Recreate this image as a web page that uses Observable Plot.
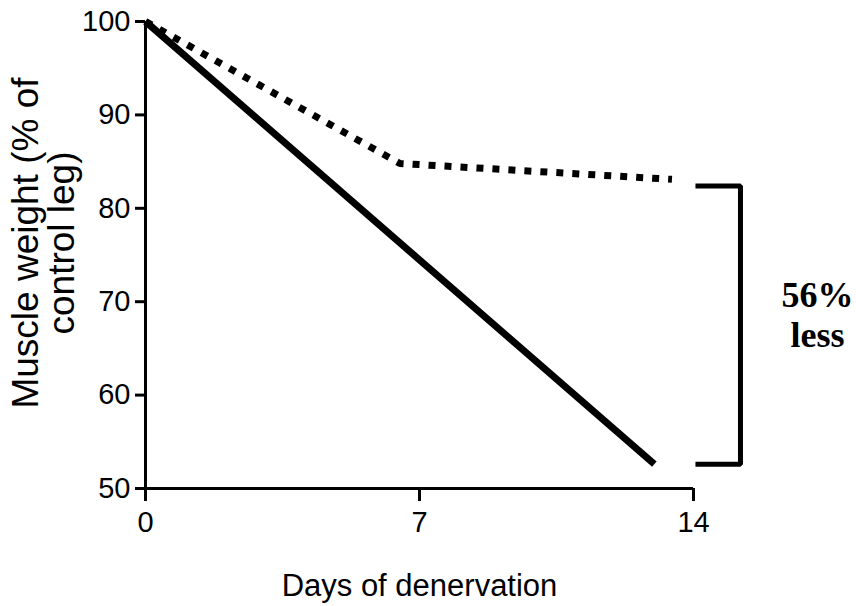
<!DOCTYPE html>
<html>
<head>
<meta charset="utf-8">
<script src="https://cdn.jsdelivr.net/npm/d3@7"></script>
<script src="https://cdn.jsdelivr.net/npm/@observablehq/plot@0.6"></script>
<style>
  html, body { margin: 0; padding: 0; background: #fff; }
</style>
</head>
<body>
<div id="chart"></div>
<script>
// Data
const solidDays = [0, 13.0];
const solidValues = [100, 52.6];
const dottedDays = [0, 6.5, 13.45];
const dottedValues = [100, 84.8, 83.1];
const xTicks = [0, 7, 14];
const yTicks = [50, 60, 70, 80, 90, 100];
const bracketX = [14.05, 15.2, 15.2, 14.05];
const bracketY = [82.4, 82.4, 52.6, 52.6];
const annotationLines = ["56%", "less"];
const annotationX = [17.17, 17.17];
const annotationY = [69.4, 65.1];
const xLabel = "Days of denervation";
const yLabelLines = ["Muscle weight (% of", "control leg)"];

const solid = solidDays.map((d, i) => ({day: d, value: solidValues[i]}));
const dotted = dottedDays.map((d, i) => ({day: d, value: dottedValues[i]}));
const bracket = bracketX.map((d, i) => ({day: d, value: bracketY[i]}));
const annot = annotationLines.map((t, i) => ({text: t, day: annotationX[i], value: annotationY[i]}));

const narrow = "'Liberation Sans Narrow', 'Arial Narrow', 'Liberation Sans', Arial, sans-serif";
const regular = "'Liberation Sans', Arial, sans-serif";

const chart = Plot.plot({
  width: 856,
  height: 606,
  marginLeft: 145,
  marginRight: 163,
  marginTop: 21,
  marginBottom: 118,
  style: {fontFamily: narrow, background: "white", color: "black", overflow: "visible"},
  x: {domain: [0, 14]},
  y: {domain: [50, 100]},
  marks: [
    Plot.axisX({ticks: xTicks, tickSize: 13, tickPadding: 10, fontSize: 29, strokeWidth: 3, label: null, tickFormat: d => String(d)}),
    Plot.axisY({ticks: yTicks, tickSize: 10, tickPadding: 5, fontSize: 29, strokeWidth: 3, label: null, tickFormat: d => String(d)}),
    Plot.ruleX([0], {y1: 50, y2: 100, strokeWidth: 3}),
    Plot.ruleY([50], {x1: 0, x2: 14, strokeWidth: 3}),
    Plot.line(solid, {x: "day", y: "value", stroke: "black", strokeWidth: 7, strokeLinecap: "butt", strokeLinejoin: "miter"}),
    Plot.line(dotted, {x: "day", y: "value", stroke: "black", strokeWidth: 7, strokeDasharray: "7,9", strokeLinecap: "butt", strokeLinejoin: "miter"}),
    Plot.line(bracket, {x: "day", y: "value", stroke: "black", strokeWidth: 5, strokeLinecap: "butt", strokeLinejoin: "miter"}),
    Plot.text(annot, {x: "day", y: "value", text: "text", fontSize: 36, fontWeight: "bold", fontFamily: "'Liberation Serif', 'Times New Roman', serif", lineAnchor: "bottom", textAnchor: "middle", fill: "black"}),
    Plot.text([xLabel], {frameAnchor: "bottom", text: d => d, dy: 107, lineAnchor: "bottom", textAnchor: "middle", fontSize: 31, fontFamily: narrow, fill: "black"}),
    Plot.text([yLabelLines[0]], {frameAnchor: "left", text: d => d, rotate: -90, dx: -108, dy: -12, lineAnchor: "bottom", textAnchor: "middle", fontSize: 37, fontFamily: regular, fill: "black"}),
    Plot.text([yLabelLines[1]], {frameAnchor: "left", text: d => d, rotate: -90, dx: -72, dy: -12, lineAnchor: "bottom", textAnchor: "middle", fontSize: 37, fontFamily: regular, fill: "black"})
  ]
});
document.getElementById("chart").appendChild(chart);
</script>
</body>
</html>
